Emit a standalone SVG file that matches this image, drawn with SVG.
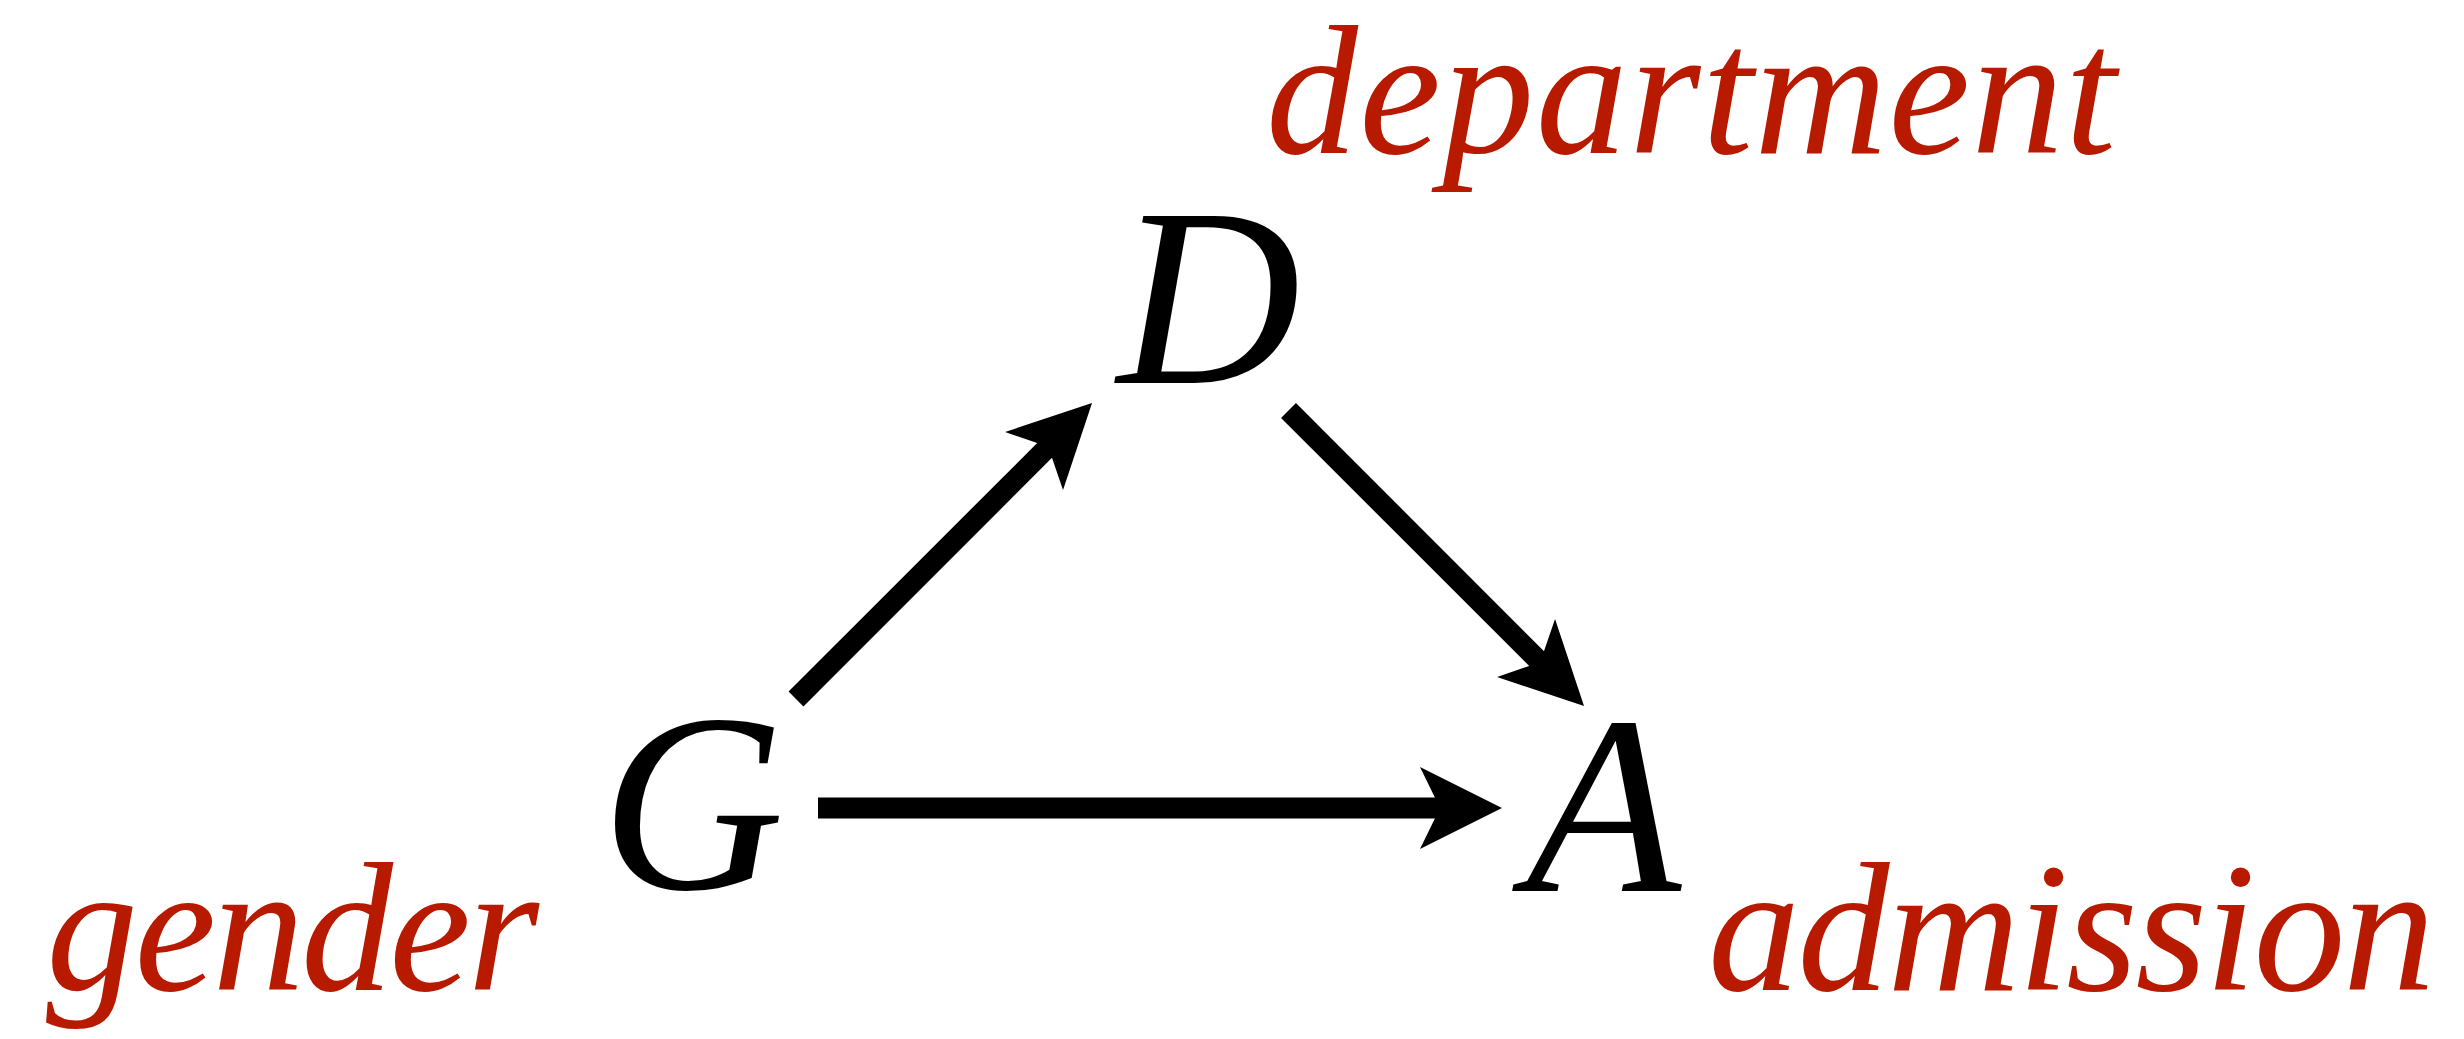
<svg xmlns="http://www.w3.org/2000/svg" width="2464" height="1039" viewBox="0 0 2464 1039">
  <style>
    .var { font-family: "Liberation Serif", "Times New Roman", serif; font-style: italic; font-size: 254px; fill: #000; }
    .lbl { font-family: "Liberation Serif", "Times New Roman", serif; font-style: italic; font-size: 184px; fill: #b81a00; }
    .edge { stroke: #000; stroke-width: 21; fill: none; stroke-linecap: butt; }
  </style>
  <defs>
    <marker id="arrow" markerUnits="userSpaceOnUse" markerWidth="82" markerHeight="82" refX="22" refY="41" orient="auto" overflow="visible">
      <path d="M82,41 L0,0 L20,41 L0,82 Z" fill="#000"/>
    </marker>
  </defs>
  <rect width="2464" height="1039" fill="#fff"/>
  <g id="connectors">
    <line class="edge" x1="796" y1="699" x2="1049.6" y2="445.4" marker-end="url(#arrow)"/>
    <line class="edge" x1="1288.5" y1="410.5" x2="1541.6" y2="663.6" marker-end="url(#arrow)"/>
    <line class="edge" x1="818" y1="808" x2="1442" y2="808" marker-end="url(#arrow)"/>
  </g>
  <g id="node-D">
    <text class="var" x="1117" y="383">D</text>
    <text class="lbl" x="1266" y="153" textLength="850" lengthAdjust="spacing">department</text>
  </g>
  <g id="node-G">
    <text class="var" x="601" y="889">G</text>
    <text class="lbl" x="46" y="990" textLength="493" lengthAdjust="spacing">gender</text>
  </g>
  <g id="node-A">
    <text class="var" x="1526" y="891">A</text>
    <text class="lbl" x="1708" y="990" textLength="727" lengthAdjust="spacing">admission</text>
  </g>
</svg>
